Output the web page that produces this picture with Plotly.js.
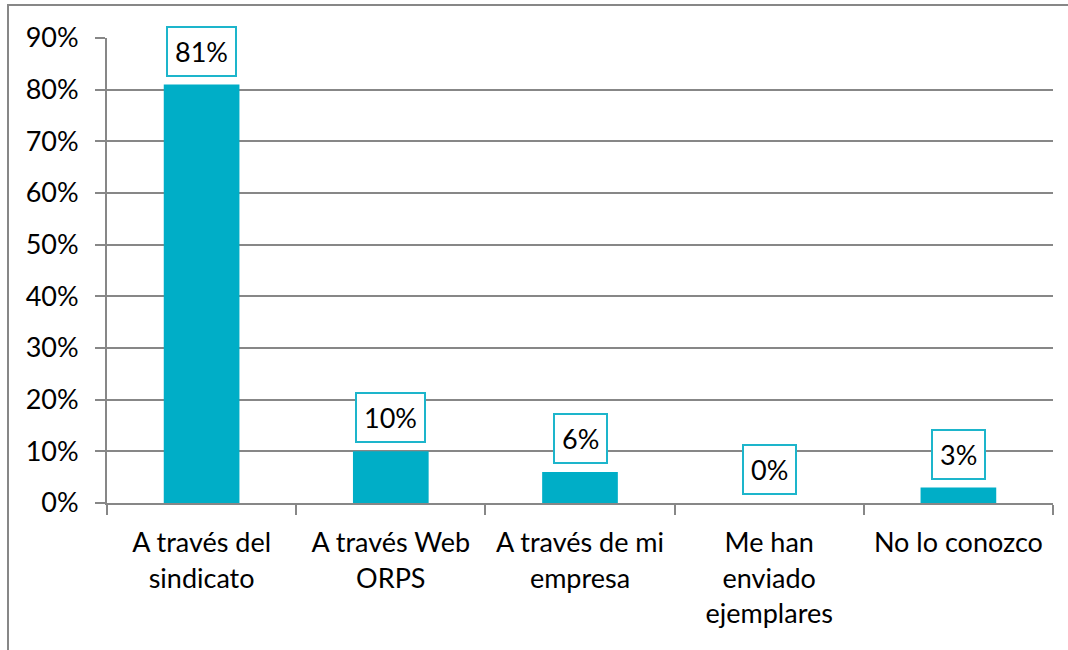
<!DOCTYPE html>
<html>
<head>
<meta charset="utf-8">
<script src="https://cdn.plot.ly/plotly-3.0.1.min.js"></script>
<style>
  html, body { margin: 0; padding: 0; background: #ffffff; }
  #chart { width: 1068px; height: 650px; }
</style>
</head>
<body>
<div id="chart"></div>
<script>
// Column chart: how respondents learned about the ORPS, share per answer.

const categories = [
  'A través del<br>sindicato',
  'A través Web<br>ORPS',
  'A través de mi<br>empresa',
  'Me han<br>enviado<br>ejemplares',
  'No lo conozco',
];
const shares = [0.81, 0.10, 0.06, 0.00, 0.03];
const shareLabels = ['81%', '10%', '6%', '0%', '3%'];
const yTicks = [0, 0.1, 0.2, 0.3, 0.4, 0.5, 0.6, 0.7, 0.8, 0.9];

const COLORS = {
  bar: '#00AEC7',
  labelBorder: '#1DB5CB',
  grid: '#878787',
  text: '#000000',
};

const FONT = { family: 'Lato, "Open Sans", sans-serif', size: 27, color: COLORS.text };

const M = { l: 107, r: 15, t: 38, b: 147 };
const W = 1068;
const H = 650;
const plotW = W - M.l - M.r;
const plotH = H - M.t - M.b;

const trace = {
  type: 'bar',
  x: categories,
  y: shares,
  width: 0.4,
  marker: { color: COLORS.bar, line: { width: 0 } },
  hoverinfo: 'skip',
};

// Value labels sit in teal-bordered boxes just above each bar.
const annotations = categories.map((cat, i) => ({
  x: cat,
  y: shares[i],
  xref: 'x',
  yref: 'y',
  text: shareLabels[i],
  showarrow: false,
  yanchor: 'bottom',
  yshift: 8,
  font: FONT,
  bgcolor: '#ffffff',
  bordercolor: COLORS.labelBorder,
  borderwidth: 2,
  borderpad: 7,
}));

// Outer chart frame (left and top edges visible, rest runs off the picture).
const frame = {
  type: 'rect',
  xref: 'paper',
  yref: 'paper',
  x0: (8 - M.l) / plotW,
  x1: (W + 20 - M.l) / plotW,
  y0: -(H + 20 - M.t - plotH) / plotH,
  y1: (H - M.b - 5) / plotH,
  line: { color: COLORS.grid, width: 2 },
  fillcolor: 'rgba(0,0,0,0)',
  layer: 'below',
};

const layout = {
  width: W,
  height: H,
  margin: M,
  paper_bgcolor: '#ffffff',
  plot_bgcolor: '#ffffff',
  font: FONT,
  showlegend: false,
  bargap: 0.6,
  xaxis: {
    type: 'category',
    showgrid: false,
    showline: true,
    linecolor: COLORS.grid,
    linewidth: 2,
    ticks: 'outside',
    tickson: 'boundaries',
    ticklen: 10,
    tickwidth: 2,
    tickcolor: COLORS.grid,
    ticklabelstandoff: 15,
    tickfont: FONT,
    fixedrange: true,
  },
  yaxis: {
    range: [0, 0.9],
    tickvals: yTicks,
    tickformat: '.0%',
    showgrid: true,
    gridcolor: COLORS.grid,
    gridwidth: 2,
    zeroline: false,
    showline: true,
    linecolor: COLORS.grid,
    linewidth: 2,
    ticks: 'outside',
    ticklen: 10,
    tickwidth: 2,
    tickcolor: COLORS.grid,
    ticklabelstandoff: 11,
    tickfont: FONT,
    fixedrange: true,
  },
  annotations,
  shapes: [frame],
};

Plotly.newPlot('chart', [trace], layout, { displayModeBar: false, staticPlot: true });
</script>
</body>
</html>
